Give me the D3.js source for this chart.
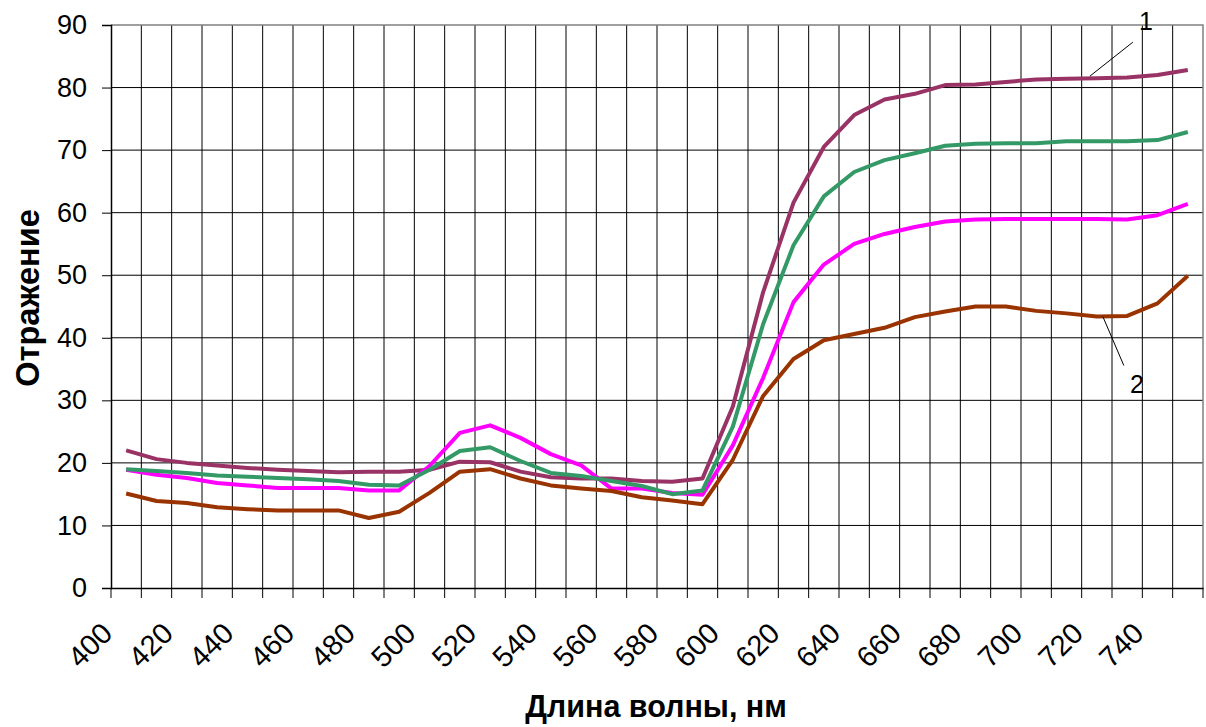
<!DOCTYPE html>
<html>
<head>
<meta charset="utf-8">
<script src="https://cdn.jsdelivr.net/npm/d3@7"></script>
<style>
  body { margin: 0; background: #fff; }
  text { font-family: "Liberation Sans", Arial, sans-serif; }
</style>
</head>
<body>
<script>
// wavelengths, nm (category axis, one category per 10 nm)
const wavelengths = [400, 410, 420, 430, 440, 450, 460, 470, 480, 490,
  500, 510, 520, 530, 540, 550, 560, 570, 580, 590,
  600, 610, 620, 630, 640, 650, 660, 670, 680, 690,
  700, 710, 720, 730, 740, 750]
const tickLabels = [400, 420, 440, 460, 480, 500, 520, 540, 560, 580, 600,
  620, 640, 660, 680, 700, 720, 740]
const yTicks = [0, 10, 20, 30, 40, 50, 60, 70, 80, 90]

const curve1 = [22.0, 20.6, 20.0, 19.6, 19.2, 18.9, 18.7, 18.5, 18.6, 18.6,
  18.9, 20.2, 20.1, 18.6, 17.7, 17.5, 17.5, 17.1, 17.0, 17.5,
  29.0, 47.3, 61.6, 70.5, 75.6, 78.1, 79.0, 80.4, 80.5, 80.9,
  81.3, 81.4, 81.5, 81.6, 82.0, 82.8]
const curveGreen = [19.0, 18.7, 18.4, 18.0, 17.8, 17.6, 17.4, 17.1, 16.5, 16.4,
  18.9, 21.9, 22.5, 20.3, 18.4, 17.9, 17.1, 16.3, 15.0, 15.6,
  25.8, 42.2, 54.8, 62.6, 66.5, 68.4, 69.5, 70.7, 71.0, 71.1,
  71.1, 71.4, 71.4, 71.4, 71.6, 72.9]
const curveMagenta = [18.9, 18.1, 17.6, 16.8, 16.4, 16.0, 16.0, 16.0, 15.6, 15.6,
  19.5, 24.8, 26.0, 24.0, 21.4, 19.6, 15.9, 15.9, 15.2, 14.9,
  22.8, 33.6, 45.7, 51.7, 55.0, 56.6, 57.7, 58.6, 58.9, 59.0,
  59.0, 59.0, 59.0, 58.9, 59.6, 61.4]
const curve2 = [15.1, 13.9, 13.6, 12.9, 12.6, 12.4, 12.4, 12.4, 11.2, 12.2,
  15.2, 18.6, 19.0, 17.5, 16.4, 15.9, 15.5, 14.5, 14.0, 13.4,
  20.5, 30.7, 36.6, 39.6, 40.6, 41.6, 43.3, 44.2, 45.0, 45.0,
  44.3, 43.9, 43.4, 43.5, 45.5, 49.9]

const series = [
  { values: curve1, color: '#993366' },
  { values: curveMagenta, color: '#ff00ff' },
  { values: curveGreen, color: '#339966' },
  { values: curve2, color: '#993300' }
]

// numbered callouts, anchored on a point of a curve
const callouts = [
  { text: '1', wl: 720, value: 81.5, line: [[-7, -2], [36, -36]], label: [49, -48] },
  { text: '2', wl: 720, value: 43.4, line: [[6, 0], [27, 49]], label: [40, 76] }
]

const W = 1206, H = 727
const plot = { left: 111, right: 1203, top: 25, bottom: 588 }

const x = d3.scaleBand()
  .domain(wavelengths)
  .range([plot.left, plot.right])
  .paddingInner(0).paddingOuter(0)
const cx = d => x(d) + x.bandwidth() / 2

const y = d3.scaleLinear()
  .domain([0, 90])
  .range([plot.bottom, plot.top])

const svg = d3.select('body').append('svg')
  .attr('width', W)
  .attr('height', H)

// grid
const grid = svg.append('g').attr('stroke', '#000').attr('stroke-width', 1)
grid.selectAll('.vg')
  .data(wavelengths.slice(1))
  .enter().append('line')
    .attr('x1', d => x(d)).attr('x2', d => x(d))
    .attr('y1', plot.top).attr('y2', plot.bottom)
grid.selectAll('.hg')
  .data(yTicks.slice(1, -1))
  .enter().append('line')
    .attr('x1', plot.left).attr('x2', plot.right)
    .attr('y1', d => y(d)).attr('y2', d => y(d))

// frame top/right
svg.append('path')
  .attr('d', `M${plot.left},${plot.top}H${plot.right}V${plot.bottom}`)
  .attr('fill', 'none')
  .attr('stroke', '#808080')
  .attr('stroke-width', 1.5)

// y axis
const yAxis = d3.axisLeft(y)
  .tickValues(yTicks)
  .tickSize(9)
  .tickPadding(15)
svg.append('g')
  .attr('class', 'y axis')
  .attr('transform', `translate(${plot.left},0)`)
  .call(yAxis)

// x axis: ticks on every category boundary, labels every 20 nm
const xAxis = d3.axisBottom(x)
  .tickSize(0)
  .tickFormat('')
const gx = svg.append('g')
  .attr('class', 'x axis')
  .attr('transform', `translate(0,${plot.bottom})`)
  .call(xAxis)
gx.selectAll('.bound')
  .data(wavelengths.concat([null]))
  .enter().append('line')
    .attr('x1', (d, i) => plot.left + i * x.bandwidth())
    .attr('x2', (d, i) => plot.left + i * x.bandwidth())
    .attr('y1', 0).attr('y2', 10)
    .attr('stroke', '#000')
gx.selectAll('.lbl')
  .data(tickLabels)
  .enter().append('text')
    .attr('transform', d => `translate(${cx(d) - 12},47) rotate(-45)`)
    .attr('text-anchor', 'end')
    .attr('fill', '#000')
    .style('font-size', '29px')
    .text(d => d)

svg.selectAll('.axis path.domain')
  .attr('stroke', '#000')
  .attr('stroke-width', 1.5)
svg.select('.y.axis').selectAll('text')
  .style('font-size', '27px')
  .attr('fill', '#000')

// curves
const line = d3.line()
  .x((d, i) => cx(wavelengths[i]))
  .y(d => y(d))
svg.append('g').selectAll('path.curve')
  .data(series)
  .enter().append('path')
    .attr('class', 'curve')
    .attr('d', d => line(d.values))
    .attr('fill', 'none')
    .attr('stroke', d => d.color)
    .attr('stroke-width', 4)
    .attr('stroke-linejoin', 'round')

// callouts
callouts.forEach(c => {
  const px = cx(c.wl), py = y(c.value)
  svg.append('line')
    .attr('x1', px + c.line[0][0]).attr('y1', py + c.line[0][1])
    .attr('x2', px + c.line[1][0]).attr('y2', py + c.line[1][1])
    .attr('stroke', '#000')
    .attr('stroke-width', 1)
  svg.append('text')
    .attr('x', px + c.label[0])
    .attr('y', py + c.label[1])
    .attr('text-anchor', 'middle')
    .style('font-size', '25px')
    .text(c.text)
})

// axis titles
svg.append('text')
  .attr('x', 656)
  .attr('y', 717)
  .attr('text-anchor', 'middle')
  .style('font-size', '30.5px')
  .style('font-weight', 'bold')
  .text('Длина волны, нм')

svg.append('text')
  .attr('transform', 'translate(39,298) rotate(-90)')
  .attr('text-anchor', 'middle')
  .style('font-size', '32.5px')
  .style('font-weight', 'bold')
  .text('Отражение')
</script>
</body>
</html>
